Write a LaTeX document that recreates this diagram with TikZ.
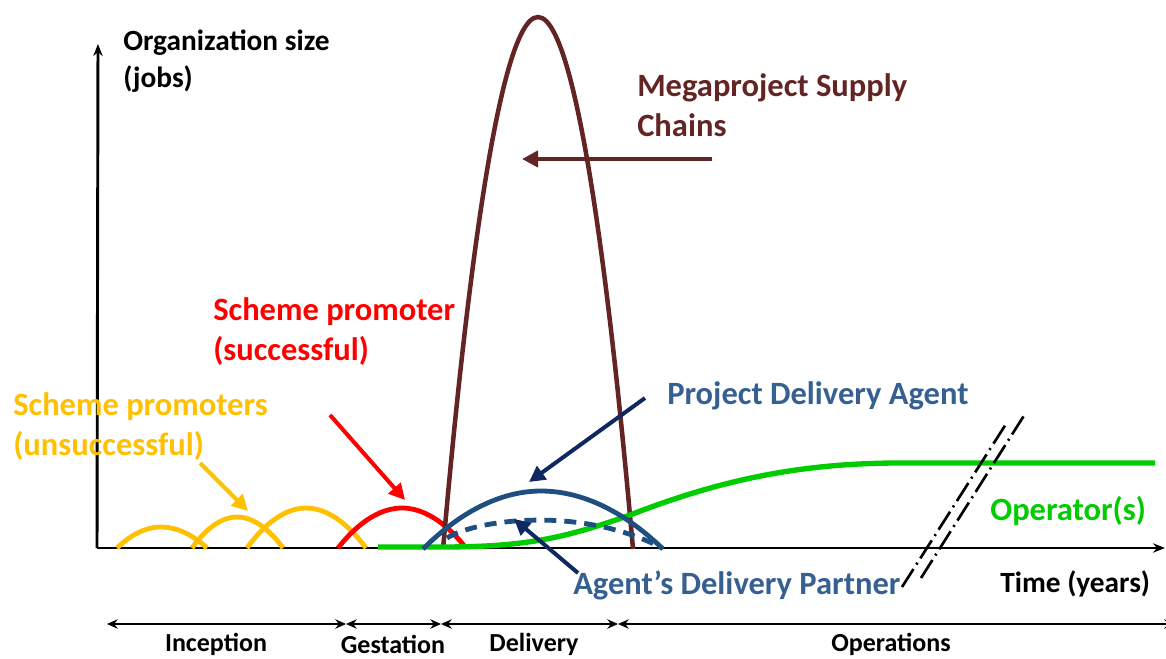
\documentclass[tikz,border=0pt]{standalone}
\usepackage{fontspec}
\setmainfont{Carlito}
\usetikzlibrary{arrows.meta}
\definecolor{supply}{RGB}{99,37,35}
\definecolor{promoOK}{RGB}{255,0,0}
\definecolor{promoNo}{RGB}{255,192,0}
\definecolor{agentcurve}{RGB}{31,78,128}
\definecolor{agenttext}{RGB}{55,96,146}
\definecolor{agentarrow}{RGB}{16,40,96}
\definecolor{operator}{RGB}{0,204,0}
\begin{document}
\begin{tikzpicture}[x=0.75pt,y=-0.75pt,
  lbl/.style={font=\bfseries\fontsize{24.4}{30}\selectfont, inner sep=0pt, anchor=west, align=left},
  axlbl/.style={font=\bfseries\fontsize{22}{28}\selectfont, inner sep=0pt, anchor=west, align=left},
  phase/.style={font=\bfseries\fontsize{19.5}{24}\selectfont, inner sep=0pt},
  axis/.style={line width=2.2pt, -{Stealth[length=9pt,width=7pt]}},
  curve/.style={line width=3.6pt},
  pointer/.style={line width=3pt, -{Triangle[length=12pt,width=12pt]}},
  span/.style={line width=1.8pt, {Stealth[length=8pt,width=7pt]}-{Stealth[length=8pt,width=7pt]}},
  breakline/.style={line width=2pt, dash pattern=on 16pt off 4pt on 1.5pt off 4pt}]
\useasboundingbox (0,0) rectangle (1166,659);

% axes
\coordinate (origin) at (98,548);
\coordinate (ytop) at (98,44);
\coordinate (xend) at (1165,548);
\draw[axis] (97,548) -- (ytop);
\draw[axis] (97,548) -- (xend);

% unsuccessful promoters
\draw[promoNo, curve] (117,548) parabola bend (161,527) (207,548);
\draw[promoNo, curve] (192,548) parabola bend (237,517) (283,548);
\draw[promoNo, curve] (247,548) parabola bend (306,508) (366,548);

% successful promoter
\draw[promoOK, curve] (338,548) parabola bend (402,508) (466,548);

% supply chains
\draw[supply, line width=3.4pt] (443,549) parabola bend (538,17) (633,549);

% operator
\draw[operator, line width=4pt] (378,547) -- (440,547)
  .. controls (520,547) and (560,540) .. (630,515)
  .. controls (720,480) and (800,463) .. (900,463) -- (1155,463);

% delivery agent and partner
\draw[agentcurve, curve] (423,549) parabola bend (541,491) (663,549);
\draw[agentcurve, line width=3.6pt, dash pattern=on 9pt off 6pt]
  (447,538) .. controls (475,520) and (580,505) .. (662,548);

% labels
\node[axlbl] (orgsize) at (123,61) {Organization size\\(jobs)};
\node[lbl, text=supply] (mega) at (637,105) {Megaproject Supply\\Chains};
\node[lbl, text=promoOK] (success) at (213,332) {Scheme promoter\\(successful)};
\node[lbl, text=promoNo] (unsuccess) at (13,427) {Scheme promoters\\(unsuccessful)};
\node[lbl, text=agenttext] (pda) at (667,396) {Project Delivery Agent};
\node[lbl, text=agenttext] (adp) at (573,585) {Agent’s Delivery Partner};
\node[lbl, text=operator] (oper) at (990,511) {Operator(s)};
\node[axlbl] (time) at (1000,584) {Time (years)};

% pointers from labels to curves
\coordinate (megaTail) at (712,159);
\coordinate (megaTip) at (522,159);
\coordinate (okTail) at (330,415);
\coordinate (okTip) at (405,500);
\coordinate (noTail) at (200,463);
\coordinate (noTip) at (248,511);
\coordinate (pdaTail) at (645,398);
\coordinate (pdaTip) at (529,482);
\coordinate (adpTail) at (578,573);
\coordinate (adpTip) at (514,519);
\draw[pointer, supply] (megaTail) -- (megaTip);
\draw[pointer, promoOK] (okTail) -- (okTip);
\draw[pointer, promoNo] (noTail) -- (noTip);
\draw[pointer, agentarrow] (pdaTail) -- (pdaTip);
\draw[pointer, agentarrow] (adpTail) -- (adpTip);

% axis break
\draw[breakline] (902,587) -- (1006,424);
\draw[breakline] (921,578) -- (1025,414);

% phases
\coordinate (p0) at (107,624);
\coordinate (p1) at (346,624);
\coordinate (p2) at (441,624);
\coordinate (p3) at (618,624);
\coordinate (p4) at (1175,624);
\draw[span] (p0) -- (p1);
\draw[span] (p1) -- (p2);
\draw[span] (p2) -- (p3);
\draw[span] (p3) -- (p4);
\node[phase] (inception) at (216,644) {Inception};
\node[phase] (gestation) at (393,644) {Gestation};
\node[phase] (delivery) at (534,644) {Delivery};
\node[phase] (operations) at (891,644) {Operations};
\end{tikzpicture}
\end{document}
